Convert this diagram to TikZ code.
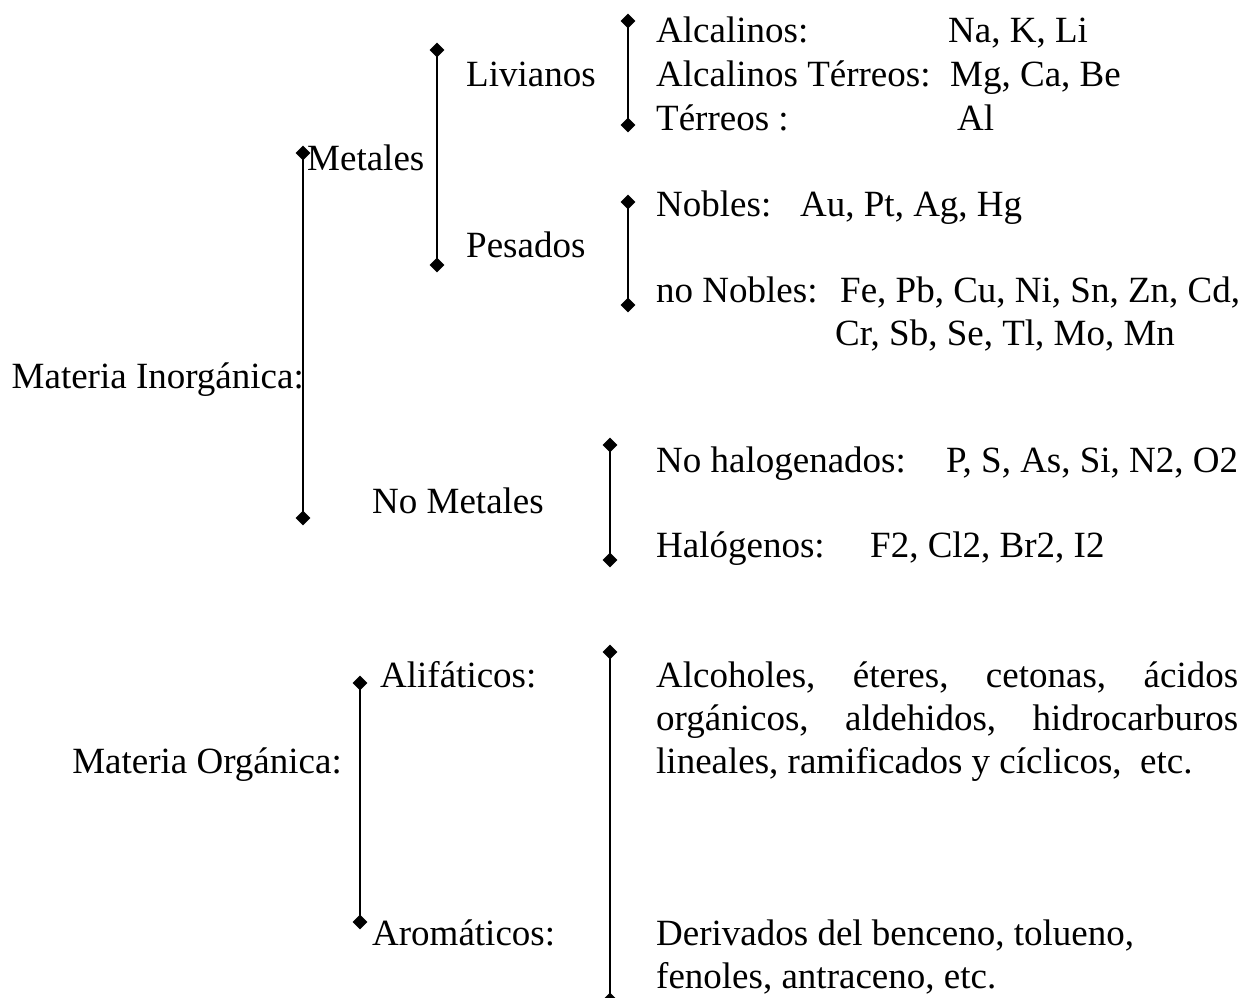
\documentclass[tikz,border=0pt]{standalone}
\usepackage{fontspec}
\setmainfont{Liberation Serif}
\usetikzlibrary{shapes.geometric}
\begin{document}
\begin{tikzpicture}[x=1pt,y=-1pt,
  lbl/.style={anchor=base west, inner sep=0pt, font=\fontsize{37}{43}\selectfont},
  lble/.style={anchor=base east, inner sep=0pt, font=\fontsize{37}{43}\selectfont},
  tip/.style={diamond, fill=black, inner sep=0pt, minimum width=15pt, minimum height=15pt},
  bar/.style={line width=1.8pt}]
\useasboundingbox (0,0) rectangle (1255,997);

% ---------- Materia inorganica ----------
\node[lble] (inorg) at (304,388) {Materia Inorgánica:};
\node[tip] (m1) at (303,153) {};
\node[tip] (m2) at (303,518) {};
\draw[bar] (m1.center) -- (m2.center);

\node[lbl] (metales) at (307,170) {Metales};
\node[tip] (l1) at (437,50) {};
\node[tip] (l2) at (437,265) {};
\draw[bar] (l1.center) -- (l2.center);

\node[lbl] (livianos) at (466,86) {Livianos};
\node[tip] (a1) at (628,21) {};
\node[tip] (a2) at (628,125) {};
\draw[bar] (a1.center) -- (a2.center);
\node[lbl] (alc) at (656,42) {Alcalinos:};
\node[lbl] (alcv) at (948,42) {Na, K, Li};
\node[lbl] (alct) at (656,86) {Alcalinos Térreos:};
\node[lbl] (alctv) at (950,86) {Mg, Ca, Be};
\node[lbl] (ter) at (656,130) {Térreos :};
\node[lbl] (terv) at (957,130) {Al};

\node[lbl] (pesados) at (466,257) {Pesados};
\node[tip] (n1) at (628,202) {};
\node[tip] (n2) at (628,305) {};
\draw[bar] (n1.center) -- (n2.center);
\node[lbl] (nob) at (656,216) {Nobles:};
\node[lbl] (nobv) at (800,216) {Au, Pt, Ag, Hg};
\node[lbl] (nnob) at (656,302) {no Nobles:};
\node[lbl] (nnobv) at (840,302) {Fe, Pb, Cu, Ni, Sn, Zn, Cd,};
\node[lbl] (nnobw) at (835,345) {Cr, Sb, Se, Tl, Mo, Mn};

\node[lbl] (nomet) at (372,513) {No Metales};
\node[tip] (h1) at (610,445) {};
\node[tip] (h2) at (610,560) {};
\draw[bar] (h1.center) -- (h2.center);
\node[lbl] (nohal) at (656,472) {No halogenados:};
\node[lbl] (nohalv) at (946,472) {P, S, As, Si, N2, O2};
\node[lbl] (hal) at (656,557) {Halógenos:};
\node[lbl] (halv) at (870,557) {F2, Cl2, Br2, I2};

% ---------- Materia organica ----------
\node[lble] (org) at (342,773) {Materia Orgánica:};
\node[tip] (o1) at (360,683) {};
\node[tip] (o2) at (360,922) {};
\draw[bar] (o1.center) -- (o2.center);
\node[lbl] (alif) at (380,687) {Alifáticos:};
\node[lbl] (arom) at (372,945) {Aromáticos:};

\node[tip] (r1) at (610,652) {};
\node[tip] (r2) at (610,1000) {};
\draw[bar] (r1.center) -- (r2.center);
\node[lbl] (alifa) at (656,687) {\makebox[582pt][s]{Alcoholes, éteres, cetonas, ácidos}};
\node[lbl] (alifb) at (656,730) {\makebox[582pt][s]{orgánicos, aldehidos, hidrocarburos}};
\node[lbl] (alifc) at (656,773) {lineales, ramificados y cíclicos,\ \ etc.};
\node[lbl] (aroma) at (656,945) {Derivados del benceno, tolueno,};
\node[lbl] (aromb) at (656,988) {fenoles, antraceno, etc.};
\end{tikzpicture}
\end{document}
